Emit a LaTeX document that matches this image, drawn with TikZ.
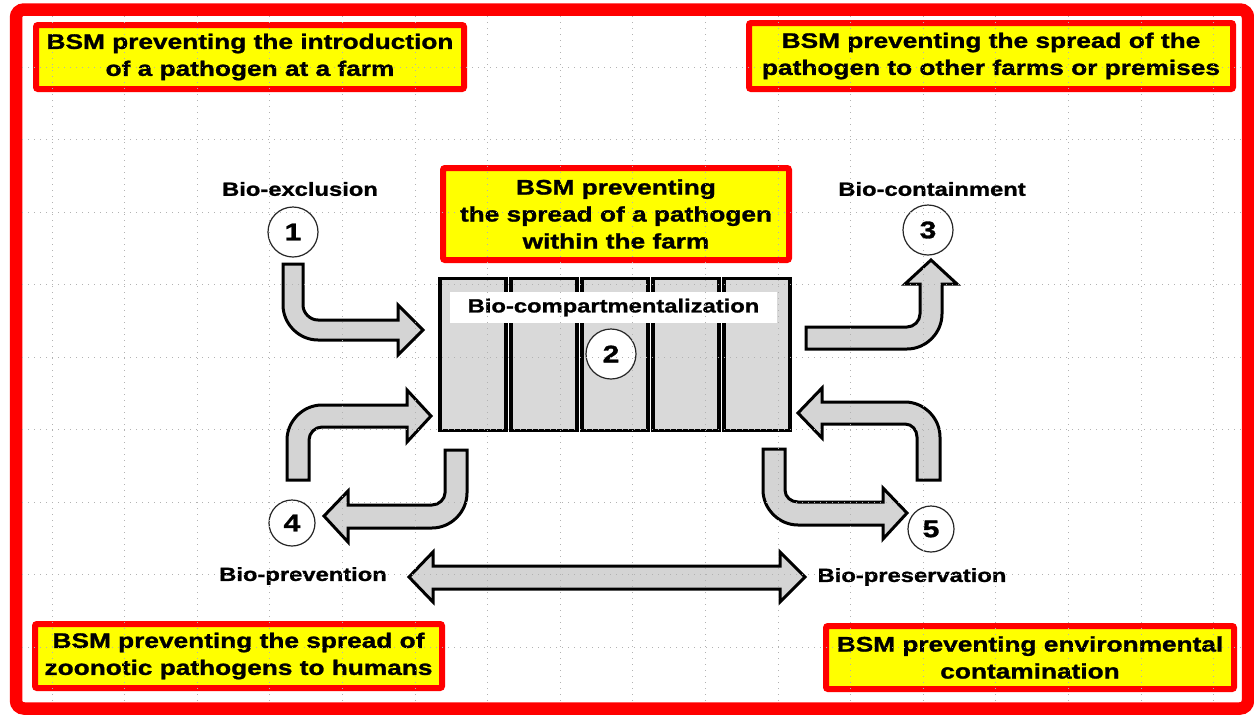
\documentclass[tikz,border=0pt]{standalone}
\usepackage{fontspec}
\newfontfamily\bsmfont{Liberation Sans}[FakeStretch=1.25, BoldFeatures={FakeBold=1.3}]
\begin{document}
\begin{tikzpicture}[x=1pt,y=-1pt,line join=miter]
	\definecolor{bsmred}{rgb}{1, 0, 0}
	\definecolor{bsmyellow}{rgb}{1, 1, 0}
	\definecolor{cellgray}{rgb}{0.85, 0.85, 0.85}
	\definecolor{arrowgray}{rgb}{0.83, 0.83, 0.83}
	\tikzset{
		bsmbox/.style={draw=bsmred, line width=6, fill=bsmyellow, rounded corners=2, inner sep=0,
			align=center, font=\fontsize{21}{27}\bsmfont\bfseries},
		biolabel/.style={inner sep=0, font=\fontsize{19}{22}\bsmfont\bfseries},
		numcircle/.style={circle, draw=black!85, line width=1.2, fill=white, inner sep=0,
			minimum size=#1, font=\fontsize{24}{24}\bsmfont\bfseries},
		numcircle/.default=50,
		cell/.style={draw=black, line width=3.5, fill=cellgray},
		blockarrow/.style={draw=black, line width=3, fill=arrowgray}
	}
	\useasboundingbox (0,0) rectangle (1254,721);
	\fill[white] (0,0) rectangle (1254,721);
	
	%% outer frame
	\draw[bsmred, line width=12.5, rounded corners=8] (16,9.5) rectangle (1248,708.5);
	
	%% boxes
	\node[bsmbox, minimum width=428, minimum height=64] (intro) at (250,57)
		{BSM preventing the introduction\\of a pathogen at a farm};
	\node[bsmbox, minimum width=484, minimum height=66] (spread) at (991,56)
		{BSM preventing the spread of the\\pathogen to other farms or premises};
	\node[bsmbox, minimum width=346, minimum height=92] (within) at (616,214)
		{BSM preventing\\the spread of a pathogen\\within the farm};
	\node[bsmbox, minimum width=407, minimum height=64] (zoo) at (238.5,656)
		{BSM preventing the spread of\\zoonotic pathogens to humans};
	\node[bsmbox, minimum width=408, minimum height=63] (env) at (1030,657.5)
		{BSM preventing environmental\\contamination};
	
	%% farm compartments
	\foreach \i in {0,...,4}
		\draw[cell] ({440+71*\i},278.5) rectangle ++(66,152);
	\node[fill=white, minimum width=327, minimum height=31, inner sep=0] (compbox) at (613.5,307.5) {};
	\node[biolabel] (comp) at (compbox) {Bio-compartmentalization};
	\node[numcircle] (c2) at (611,354) {2};
	
	%% bent arrows, left side
	\draw[blockarrow] (283,264) -- (283,305) .. controls (283,324) and (299,340) .. (318,340)
		-- (398,340) -- (398,355) -- (423,330) -- (398,305) -- (398,320) -- (318,320)
		.. controls (310,320) and (303,313) .. (303,305) -- (303,264) -- cycle;
	\draw[blockarrow] (287,480) -- (287,440) .. controls (287,421) and (303,405) .. (322,405)
		-- (407,405) -- (407,390) -- (431,416) -- (407,442) -- (407,427) -- (322,427)
		.. controls (315,427) and (309,433) .. (309,440) -- (309,480) -- cycle;
	\draw[blockarrow] (445,450) -- (467,450) -- (467,493) .. controls (467,512) and (451,528) .. (432,528)
		-- (348,528) -- (348,542) -- (324,516) -- (348,491) -- (348,505) -- (432,505)
		.. controls (439,505) and (445,499) .. (445,493) -- cycle;
	
	%% bent arrows, right side
	\draw[blockarrow] (806,327) -- (907,327) .. controls (914,327) and (920,321) .. (920,314)
		-- (920,284) -- (905,284) -- (931,260) -- (957,284) -- (942,284) -- (942,314)
		.. controls (942,333) and (926,349) .. (907,349) -- (806,349) -- cycle;
	\draw[blockarrow] (917,480) -- (917,437) .. controls (917,430) and (912,424) .. (905,424)
		-- (822,424) -- (822,438) -- (798,413) -- (822,388) -- (822,402) -- (905,402)
		.. controls (924,402) and (940,418) .. (940,437) -- (940,480) -- cycle;
	\draw[blockarrow] (763,449) -- (785,449) -- (785,490) .. controls (785,497) and (791,502) .. (798,502)
		-- (883,502) -- (883,488) -- (907,513) -- (883,539) -- (883,525) -- (798,525)
		.. controls (779,525) and (763,509) .. (763,490) -- cycle;
	
	%% double arrow
	\draw[blockarrow] (409,577) -- (433,552) -- (433,566) -- (780,566) -- (780,552) -- (805,577)
		-- (780,602) -- (780,589) -- (433,589) -- (433,602) -- cycle;
	
	%% labels and numbers
	\node[biolabel] (excl) at (300,189) {Bio-exclusion};
	\node[biolabel] (cont) at (932,189) {Bio-containment};
	\node[biolabel] (prev) at (303,576) {Bio-prevention};
	\node[biolabel] (pres) at (912,577) {Bio-preservation};
	\node[numcircle] (c1) at (293,232) {1};
	\node[numcircle] (c3) at (928,230) {3};
	\node[numcircle=46] (c4) at (292,523) {4};
	\node[numcircle=46] (c5) at (931,529) {5};
	
	%% dotted grid on top
	\begin{scope}
		\clip (22,16) rectangle (1242,702);
		\foreach \k in {0,...,16}
			\draw[gray!60, line width=0.8, dash pattern=on 1 off 5] ({52+72.6*\k},16) -- ({52+72.6*\k},702);
		\foreach \k in {0,...,8}
			\draw[gray!60, line width=0.8, dash pattern=on 1 off 5] (22,{67+72.5*\k}) -- (1242,{67+72.5*\k});
	\end{scope}
\end{tikzpicture}
\end{document}
